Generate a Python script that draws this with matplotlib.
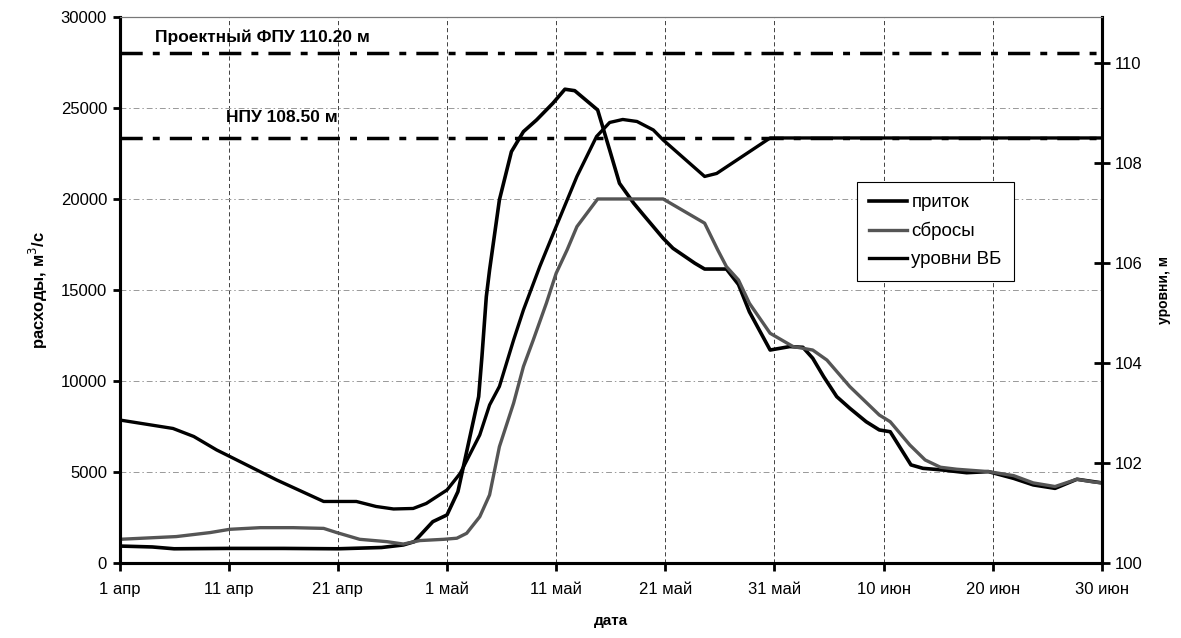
#!/usr/bin/env python3
"""Reservoir flood: inflow, releases and upstream level, 1 Apr .. 30 Jun."""
import matplotlib
matplotlib.use("Agg")
import matplotlib.pyplot as plt

plt.rcParams["font.family"] = ["Liberation Sans", "DejaVu Sans"]

# x = days since 1 April
TICK_DAYS = [0, 10, 20, 30, 40, 50, 60, 70, 80, 90]
TICK_LABELS = ["1 апр", "11 апр", "21 апр", "1 май", "11 май", "21 май",
               "31 май", "10 июн", "20 июн", "30 июн"]

# приток, m3/s
INFLOW_DAY = [0, 3, 5, 10, 15, 20, 24, 26, 27, 28.7, 30, 31, 31.9, 32.9, 33.2,
              33.6, 33.9, 34.8, 35.9, 37, 38.2, 39.7, 40.8, 41.7, 43.8, 44.9,
              45.8, 47.1, 48, 48.9, 49.8, 50.7, 52.7, 53.6, 55.6, 56.7, 57.7,
              59.6, 61.4, 62.6, 63.5, 64.5, 65.7, 66.9, 68.4, 69.6, 70.6, 72.5,
              73.6, 75.4, 77.6, 79.6, 81.9, 83.7, 85.7, 87.7, 89.2, 90]
INFLOW = [930, 880, 780, 800, 800, 780, 850, 990, 1170, 2270, 2640, 3920, 6390,
          9140, 11340, 14630, 16100, 19950, 22600, 23700, 24340, 25260, 26030,
          25950, 24890, 22690, 20860, 19770, 19120, 18480, 17840, 17290, 16470,
          16150, 16150, 15300, 13800, 11700, 11890, 11850, 11250, 10240, 9140,
          8500, 7760, 7310, 7210, 5390, 5200, 5110, 4960, 5020, 4650, 4290,
          4100, 4600, 4470, 4400]

# сбросы, m3/s
RELEASE_DAY = [0, 5.2, 8.3, 10.1, 12.9, 15.9, 18.7, 19.9, 22, 24.5, 26, 27.5,
               29.7, 30.9, 31.8, 33, 33.9, 34.8, 36.1, 37, 37.9, 39.1, 40, 41,
               41.9, 43.8, 49.8, 53.6, 54.8, 55.6, 56.7, 57.7, 59.6, 61.7, 63.5,
               64.8, 66.9, 69.6, 70.6, 72.4, 73.8, 75.2, 76.7, 79.6, 81.9, 83.7,
               85.7, 87.7, 89.2, 90]
RELEASE = [1300, 1450, 1670, 1850, 1940, 1940, 1900, 1670, 1300, 1170, 1040,
           1230, 1300, 1360, 1630, 2540, 3740, 6390, 8780, 10790, 12250, 14270,
           15920, 17200, 18480, 20000, 20000, 18670, 17200, 16280, 15550, 14270,
           12620, 11890, 11700, 11150, 9690, 8130, 7760, 6480, 5660, 5260, 5150,
           5020, 4800, 4400, 4200, 4600, 4450, 4400]

# уровни ВБ, m
LEVEL_DAY = [0, 4.9, 6.8, 8.9, 10.1, 14.4, 18.7, 21.7, 23.5, 25.1, 26.9, 28.1,
             30, 31.2, 33, 33.9, 34.8, 36.1, 37, 38.5, 40, 41.9, 43.7, 44.9,
             46.1, 47.4, 48.9, 49.8, 53.6, 54.7, 59.6, 90]
LEVEL = [102.86, 102.69, 102.53, 102.26, 102.13, 101.66, 101.23, 101.23,
         101.13, 101.08, 101.09, 101.19, 101.46, 101.79, 102.56, 103.16, 103.53,
         104.46, 105.06, 105.93, 106.73, 107.73, 108.53, 108.81, 108.87, 108.83,
         108.66, 108.46, 107.73, 107.79, 108.5, 108.5]

FPU = 110.20
NPU = 108.50

FPU_DASH = (0, (6.4, 2.9, 2, 2.9))


def main():
    fig = plt.figure(figsize=(11.81, 6.38), dpi=100)
    ax = fig.add_axes([0.1012, 0.1176, 0.8319, 0.8558])
    ax2 = ax.twinx()

    ax.set_xlim(0, 90)
    ax.set_ylim(0, 30000)
    ax2.set_ylim(100, 110.92)

    # grid: dash-dot grey horizontals, dashed black verticals
    ax.set_xticks(TICK_DAYS)
    ax.set_xticklabels(TICK_LABELS)
    ax.set_yticks(range(0, 30001, 5000))
    ax.yaxis.grid(True, color="#999999", lw=0.7, linestyle=(0, (6, 3, 1.5, 3)))
    ax.xaxis.grid(True, color="#222222", lw=0.6, linestyle=(0, (5, 3.5)))
    ax.set_axisbelow(True)

    l_in, = ax.plot(INFLOW_DAY, INFLOW, color="black", lw=2.6,
                    solid_joinstyle="round", label="приток")
    l_out, = ax.plot(RELEASE_DAY, RELEASE, color="#555555", lw=2.4,
                     solid_joinstyle="round", label="сбросы")

    ax2.axhline(FPU, color="black", lw=2.5, linestyle=FPU_DASH)
    ax2.axhline(NPU, color="black", lw=2.5, linestyle=FPU_DASH)
    l_lev, = ax2.plot(LEVEL_DAY, LEVEL, color="black", lw=2.4,
                      solid_joinstyle="round", label="уровни ВБ")

    ax2.text(3.25, 110.52, "Проектный ФПУ 110.20 м", fontsize=12.5,
             fontweight="bold", va="center", ha="left")
    ax2.text(9.75, 108.9, "НПУ 108.50 м", fontsize=12.5,
             fontweight="bold", va="center", ha="left")

    ax2.set_yticks([100, 102, 104, 106, 108, 110])

    for a in (ax, ax2):
        for side in ("left", "right", "bottom"):
            a.spines[side].set_linewidth(2.2)
            a.spines[side].set_color("black")
        a.spines["top"].set_linewidth(0.8)
        a.spines["top"].set_color("#777777")

    ax.tick_params(axis="y", direction="out", length=5, width=2,
                   labelsize=12, pad=4)
    ax.tick_params(axis="x", direction="out", length=6, width=2,
                   labelsize=12, pad=8)
    ax2.tick_params(axis="y", direction="inout", length=11, width=2,
                    labelsize=12, pad=4)

    ax.set_ylabel("расходы, м$^3$/с", fontsize=12, fontweight="bold",
                  labelpad=8)
    ax2.set_ylabel("уровни, м", fontsize=10, fontweight="bold", labelpad=10)
    ax.set_xlabel("дата", fontsize=11, fontweight="bold", labelpad=12)

    leg = ax2.legend([l_in, l_out, l_lev], ["приток", "сбросы", "уровни ВБ"],
                     loc="upper left", bbox_to_anchor=(0.7506, 0.698),
                     fontsize=13.5, frameon=True, fancybox=False,
                     edgecolor="black", framealpha=1, handlelength=2.0,
                     handletextpad=0.25, labelspacing=0.58, borderpad=0.65,
                     borderaxespad=0)
    leg.get_frame().set_linewidth(0.8)

    fig.savefig("out.png", dpi=100)
    plt.close(fig)


if __name__ == "__main__":
    main()
